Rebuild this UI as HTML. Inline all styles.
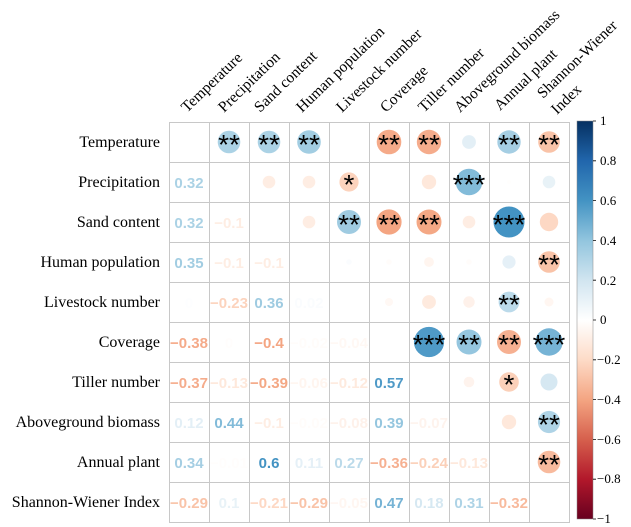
<!DOCTYPE html>
<html><head><meta charset="utf-8"><style>
html,body{margin:0;padding:0;background:#fff;}
svg{display:block;}
.rl{font-family:"Liberation Serif",serif;font-size:16px;fill:#000;}
.cl{font-family:"Liberation Serif",serif;font-size:15.5px;fill:#000;}
.n{font-family:"Liberation Sans",sans-serif;font-size:15px;font-weight:bold;text-anchor:middle;}
.s{font-family:"Liberation Sans",sans-serif;font-size:28px;text-anchor:middle;fill:#000;}
.tk{font-family:"Liberation Serif",serif;font-size:13px;fill:#000;}
</style></head><body>
<svg width="631" height="527" viewBox="0 0 631 527" xmlns="http://www.w3.org/2000/svg">
<defs><linearGradient id="g" x1="0" y1="0" x2="0" y2="1">
<stop offset="0" stop-color="#053061"/><stop offset="0.1" stop-color="#2166AC"/><stop offset="0.2" stop-color="#4393C3"/><stop offset="0.3" stop-color="#92C5DE"/><stop offset="0.4" stop-color="#D1E5F0"/><stop offset="0.5" stop-color="#FFFFFF"/><stop offset="0.6" stop-color="#FDDBC7"/><stop offset="0.7" stop-color="#F4A582"/><stop offset="0.8" stop-color="#D6604D"/><stop offset="0.9" stop-color="#B2182B"/><stop offset="1" stop-color="#67001F"/>
</linearGradient></defs>

<g class="rl" text-anchor="end">
<text x="160" y="147">Temperature</text>
<text x="160" y="187">Precipitation</text>
<text x="160" y="227">Sand content</text>
<text x="160" y="267">Human population</text>
<text x="160" y="307">Livestock number</text>
<text x="160" y="347">Coverage</text>
<text x="160" y="387">Tiller number</text>
<text x="160" y="427">Aboveground biomass</text>
<text x="160" y="467">Annual plant</text>
<text x="160" y="507">Shannon-Wiener Index</text>
</g>
<g class="cl">
<text transform="translate(187,113) rotate(-44)">Temperature</text>
<text transform="translate(224,113) rotate(-44)">Precipitation</text>
<text transform="translate(260,113) rotate(-44)">Sand content</text>
<text transform="translate(302,113) rotate(-44)">Human population</text>
<text transform="translate(342,113) rotate(-44)">Livestock number</text>
<text transform="translate(386,113) rotate(-44)">Coverage</text>
<text transform="translate(424,113) rotate(-44)">Tiller number</text>
<text transform="translate(460,113) rotate(-44)">Aboveground biomass</text>
<text transform="translate(500,111) rotate(-44)">Annual plant</text>
<text transform="translate(543,99) rotate(-44)">Shannon-Wiener</text>
<text transform="translate(557,115) rotate(-44)">Index</text>
</g>

<g stroke="#c8c8c8" stroke-width="1" fill="none">
<rect x="169.5" y="122.5" width="400" height="400"/>
<path d="M209.5 122V522M249.5 122V522M289.5 122V522M329.5 122V522M369.5 122V522M409.5 122V522M449.5 122V522M489.5 122V522M529.5 122V522"/>
<path d="M169 162.5H569M169 202.5H569M169 242.5H569M169 282.5H569M169 322.5H569M169 362.5H569M169 402.5H569M169 442.5H569M169 482.5H569"/>
</g>

<g>
<circle cx="229" cy="142" r="11.3" fill="#ABD2E5"/>
<circle cx="269" cy="142" r="11.3" fill="#ABD2E5"/>
<circle cx="309" cy="142" r="11.8" fill="#A2CDE2"/>
<circle cx="389" cy="142" r="12.3" fill="#F5AA89"/>
<circle cx="429" cy="142" r="12.2" fill="#F5AC8C"/>
<circle cx="469" cy="142" r="6.9" fill="#E3EFF6"/>
<circle cx="509" cy="142" r="11.7" fill="#A5CEE3"/>
<circle cx="549" cy="142" r="10.8" fill="#F9C3A8"/>
<circle cx="269" cy="182" r="6.3" fill="#FEEDE3"/>
<circle cx="309" cy="182" r="6.3" fill="#FEEDE3"/>
<circle cx="349" cy="182" r="9.6" fill="#FCD3BD"/>
<circle cx="429" cy="182" r="7.2" fill="#FEE8DB"/>
<circle cx="469" cy="182" r="13.3" fill="#82BBD9"/>
<circle cx="509" cy="182" r="2" fill="#FFFEFD"/>
<circle cx="549" cy="182" r="6.3" fill="#E8F2F7"/>
<circle cx="309" cy="222" r="6.3" fill="#FEEDE3"/>
<circle cx="349" cy="222" r="12" fill="#9FCBE1"/>
<circle cx="389" cy="222" r="12.6" fill="#F4A582"/>
<circle cx="429" cy="222" r="12.5" fill="#F4A885"/>
<circle cx="469" cy="222" r="6.3" fill="#FEEDE3"/>
<circle cx="509" cy="222" r="15.5" fill="#4393C3"/>
<circle cx="549" cy="222" r="9.2" fill="#FDD8C4"/>
<circle cx="349" cy="262" r="2.8" fill="#FAFCFE"/>
<circle cx="389" cy="262" r="2.8" fill="#FFFCFA"/>
<circle cx="429" cy="262" r="4.9" fill="#FFF5EF"/>
<circle cx="469" cy="262" r="2.8" fill="#FFFCFA"/>
<circle cx="509" cy="262" r="6.6" fill="#E5F0F7"/>
<circle cx="549" cy="262" r="10.8" fill="#F9C3A8"/>
<circle cx="389" cy="302" r="4" fill="#FFF8F4"/>
<circle cx="429" cy="302" r="6.9" fill="#FEEADE"/>
<circle cx="469" cy="302" r="5.7" fill="#FEF1EA"/>
<circle cx="509" cy="302" r="10.4" fill="#BBDAEA"/>
<circle cx="549" cy="302" r="4.5" fill="#FFF6F1"/>
<circle cx="429" cy="342" r="15.1" fill="#4F9AC7"/>
<circle cx="469" cy="342" r="12.5" fill="#95C6DF"/>
<circle cx="509" cy="342" r="12" fill="#F6B091"/>
<circle cx="549" cy="342" r="13.7" fill="#76B3D5"/>
<circle cx="469" cy="382" r="5.3" fill="#FEF3ED"/>
<circle cx="509" cy="382" r="9.8" fill="#FBD0B9"/>
<circle cx="549" cy="382" r="8.5" fill="#D6E8F2"/>
<circle cx="509" cy="422" r="7.2" fill="#FEE8DB"/>
<circle cx="549" cy="422" r="11.1" fill="#AED3E6"/>
<circle cx="549" cy="462" r="11.3" fill="#F8BA9D"/>
</g>

<g class="s">
<text x="229" y="154">**</text><text x="269" y="154">**</text><text x="309" y="154">**</text>
<text x="389" y="154">**</text><text x="429" y="154">**</text><text x="509" y="154">**</text><text x="549" y="154">**</text>
<text x="349" y="194">*</text><text x="469" y="194">***</text>
<text x="349" y="234">**</text><text x="389" y="234">**</text><text x="429" y="234">**</text><text x="509" y="234">***</text>
<text x="549" y="274">**</text>
<text x="509" y="314">**</text>
<text x="429" y="354">***</text><text x="469" y="354">**</text><text x="509" y="354">**</text><text x="549" y="354">***</text>
<text x="509" y="394">*</text>
<text x="549" y="434">**</text>
<text x="549" y="474">**</text>
</g>

<g class="n">
<text x="189" y="188" fill="#ABD2E5">0.32</text>
<text x="189" y="228" fill="#ABD2E5">0.32</text><text x="229" y="228" fill="#FEEDE3">−0.1</text>
<text x="189" y="268" fill="#A2CDE2">0.35</text><text x="229" y="268" fill="#FEEDE3">−0.1</text><text x="269" y="268" fill="#FEEDE3">−0.1</text>
<text x="189" y="308" fill="#FDFEFF">0</text><text x="229" y="308" fill="#FCD3BD">−0.23</text><text x="269" y="308" fill="#9FCBE1">0.36</text><text x="309" y="308" fill="#FAFCFE">0.02</text>
<text x="189" y="348" fill="#F5AA89">−0.38</text><text x="229" y="348" fill="#FFFDFC">0</text><text x="269" y="348" fill="#F4A582">−0.4</text><text x="309" y="348" fill="#FFFCFA">−0.02</text><text x="349" y="348" fill="#FFF8F4">−0.04</text>
<text x="189" y="388" fill="#F5AC8C">−0.37</text><text x="229" y="388" fill="#FEE8DB">−0.13</text><text x="269" y="388" fill="#F4A885">−0.39</text><text x="309" y="388" fill="#FFF5EF">−0.06</text><text x="349" y="388" fill="#FEEADE">−0.12</text><text x="389" y="388" fill="#4F9AC7">0.57</text>
<text x="189" y="428" fill="#E3EFF6">0.12</text><text x="229" y="428" fill="#82BBD9">0.44</text><text x="269" y="428" fill="#FEEDE3">−0.1</text><text x="309" y="428" fill="#FFFCFA">−0.02</text><text x="349" y="428" fill="#FEF1EA">−0.08</text><text x="389" y="428" fill="#95C6DF">0.39</text><text x="429" y="428" fill="#FEF3ED">−0.07</text>
<text x="189" y="468" fill="#A5CEE3">0.34</text><text x="229" y="468" fill="#FFFDFC">−0.01</text><text x="269" y="468" fill="#4393C3">0.6</text><text x="309" y="468" fill="#E5F0F7">0.11</text><text x="349" y="468" fill="#BBDAEA">0.27</text><text x="389" y="468" fill="#F6B091">−0.36</text><text x="429" y="468" fill="#FBD0B9">−0.24</text><text x="469" y="468" fill="#FEE8DB">−0.13</text>
<text x="189" y="508" fill="#F9C3A8">−0.29</text><text x="229" y="508" fill="#E8F2F7">0.1</text><text x="269" y="508" fill="#FDD8C4">−0.21</text><text x="309" y="508" fill="#F9C3A8">−0.29</text><text x="349" y="508" fill="#FFF6F1">−0.05</text><text x="389" y="508" fill="#76B3D5">0.47</text><text x="429" y="508" fill="#D6E8F2">0.18</text><text x="469" y="508" fill="#AED3E6">0.31</text><text x="509" y="508" fill="#F8BA9D">−0.32</text>
</g>

<rect x="577" y="121" width="16" height="398" fill="url(#g)" stroke="#888" stroke-width="0.5"/>
<g stroke="#000" stroke-width="0.8">
<path d="M593 121h3M593 160.8h3M593 200.6h3M593 240.4h3M593 280.2h3M593 320h3M593 359.8h3M593 399.6h3M593 439.4h3M593 479.2h3M593 519h3"/>
</g>
<g class="tk">
<text x="600" y="125">1</text>
<text x="600" y="165">0.8</text>
<text x="600" y="205">0.6</text>
<text x="600" y="245">0.4</text>
<text x="600" y="285">0.2</text>
<text x="600" y="324">0</text>
<text x="597" y="364">−0.2</text>
<text x="597" y="404">−0.4</text>
<text x="597" y="444">−0.6</text>
<text x="597" y="483">−0.8</text>
<text x="597" y="523">−1</text>
</g>
</svg>
</body></html>
